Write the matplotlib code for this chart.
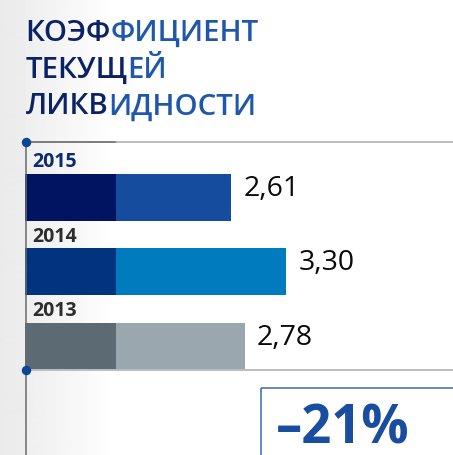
import numpy as np
import matplotlib.pyplot as plt
from matplotlib.patches import Rectangle

# data
years = ['2015', '2014', '2013']
values = [2.61, 3.30, 2.78]
value_labels = ['2,61', '3,30', '2,78']
change_label = '–21%'
title_lines = [('КОЭФ', 'ФИЦИЕНТ'), ('ТЕКУЩ', 'ЕЙ'), ('ЛИКВ', 'ИДНОСТИ')]

dark_colors = ['#001461', '#00347f', '#5c6b73']
light_colors = ['#164c9e', '#007bbd', '#9aa7ae']
year_colors = ['#0d2a6f', '#2d2d2d', '#2d2d2d']

FONT = 'Open Sans'
W, H = 453, 455
X0 = 25.0        # px where value 0 sits
SCALE = 79.0     # px per unit
ROW = 74.4       # px between bars
Y0 = 197.3       # px centre of first bar
BAR_H = 46.7 / ROW
DARK = (116 - X0) / SCALE

fig = plt.figure(figsize=(W / 100, H / 100), dpi=100)

# background, pixel coords
bg = fig.add_axes([0, 0, 1, 1])
bg.set_xlim(0, W)
bg.set_ylim(H, 0)
bg.axis('off')
xs = np.arange(W)
shade = np.where(xs < 26, 0.92 + 0.01 * xs / 26,
                 np.clip(0.935 + 0.065 * (xs - 26) / 90, 0, 1))
bg.imshow(np.tile(shade, (2, 1)), cmap='gray', vmin=0, vmax=1,
          extent=(0, W, H, 0), aspect='auto', interpolation='bilinear')

# title, two tone
for i, (a, b) in enumerate(title_lines):
    yb = 40.7 + i * 36.8
    t1 = bg.text(25.5, yb, a, color='#0b2366', fontsize=21.2, family=FONT,
                 weight='semibold', va='baseline', ha='left')
    fig.canvas.draw()
    x1 = t1.get_window_extent().x1
    bg.text(x1, yb, b, color='#1f57ab', fontsize=21.2, family=FONT,
            weight='semibold', va='baseline', ha='left')

# change box
bg.add_patch(Rectangle((261, 387.5), 300, 100, fill=False,
                       edgecolor='#3d68b4', lw=1.1))
bg.text(276, 444, change_label, color='#184d9f', fontsize=37.8, family=FONT,
        weight='bold', va='baseline', ha='left')

# bars
ax = fig.add_axes([0, 0, 1, 1])
ax.patch.set_alpha(0)
ax.set_xlim(-X0 / SCALE, (W - X0) / SCALE)
ax.set_ylim((H - Y0) / ROW, -Y0 / ROW)
ax.axis('off')
pos = np.arange(len(values))
ax.barh(pos, values, height=BAR_H, color=light_colors)
ax.barh(pos, [min(DARK, v) for v in values], height=BAR_H, color=dark_colors)

for i, (yr, v, lab) in enumerate(zip(years, values, value_labels)):
    ax.text((32 - X0) / SCALE, i - BAR_H / 2 - 6.7 / ROW, yr,
            color=year_colors[i], fontsize=14, family=FONT, weight='bold',
            va='baseline', ha='left')
    ax.text(v + 12.5 / SCALE, i - 1.5 / ROW, lab, color='#0a0a0a',
            fontsize=20.5, family=FONT, weight='medium',
            va='baseline', ha='left')

# frame lines and dots on top
fg = fig.add_axes([0, 0, 1, 1])
fg.patch.set_alpha(0)
fg.set_xlim(0, W)
fg.set_ylim(H, 0)
fg.axis('off')
fg.plot([25.5, 25.5], [142, H], color='#6a6a6a', lw=1.1)
fg.plot([25.5, 116], [142, 142], color='#5a5a5a', lw=1.1)
fg.plot([116, W], [142, 142], color='#a9a9a9', lw=1.1)
fg.plot([25.5, W], [369.5, 369.5], color='#bcbcbc', lw=1.4)
fg.plot([25.5, 25.5], [142, 369.5], 'o', color='#0b4595', ms=6.8, mec='none')

fig.savefig('out.png', dpi=100)
